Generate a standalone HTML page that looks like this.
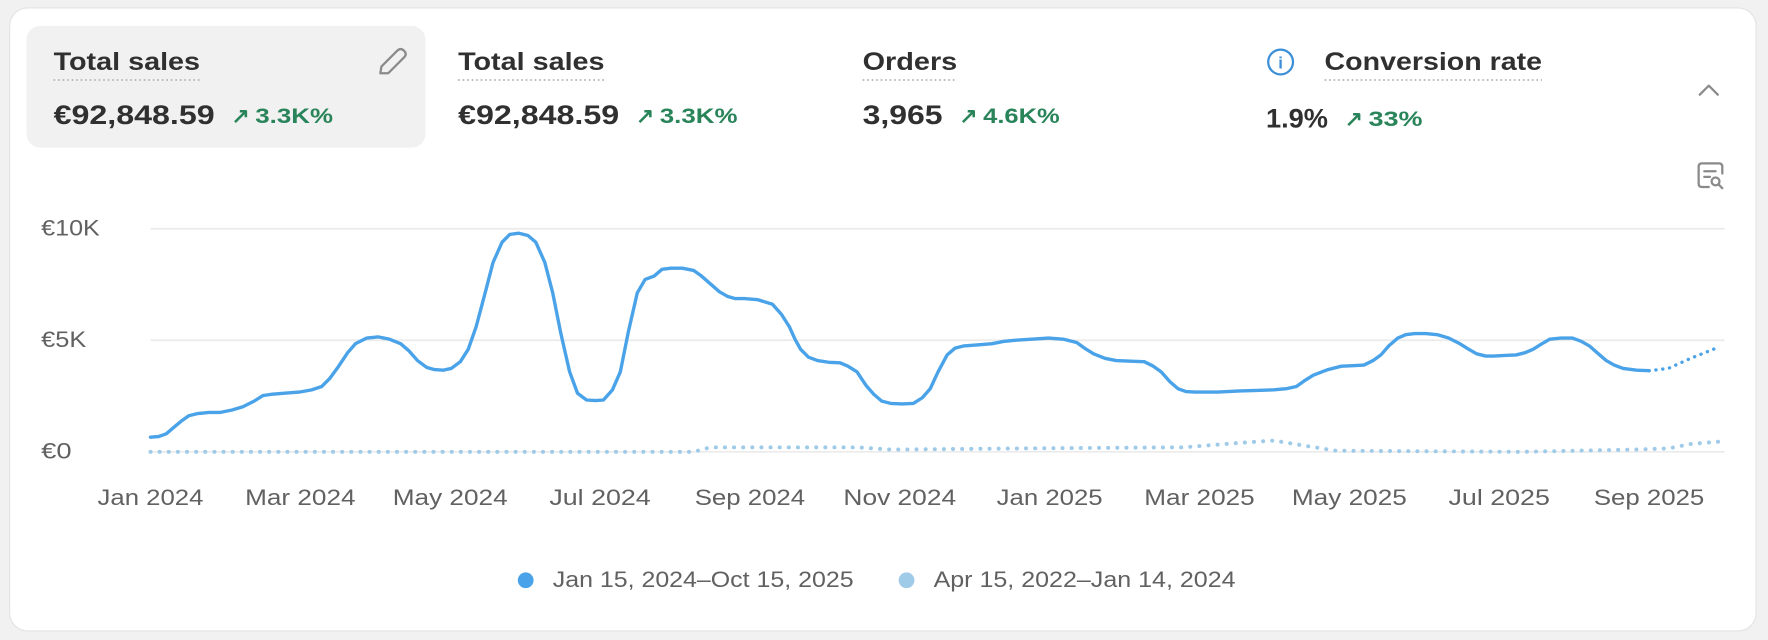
<!DOCTYPE html>
<html><head><meta charset="utf-8"><style>
html,body{margin:0;padding:0;background:#f1f1f1;}
svg{display:block;font-family:"Liberation Sans",sans-serif;}
</style></head><body>
<svg width="1768" height="640" viewBox="0 0 1568 568" xmlns="http://www.w3.org/2000/svg">
<rect x="0" y="0" width="1568" height="568" fill="#f1f1f1"/>
<rect x="8" y="7" width="1550" height="553" rx="16" fill="#fff" stroke="#e3e3e3" stroke-width="1"/>
<rect x="23" y="23" width="354" height="108" rx="12" fill="#f1f1f1"/>
<g fill="#303030" font-weight="bold" font-size="22">
<text x="47" y="62" textLength="130" lengthAdjust="spacingAndGlyphs">Total sales</text>
<text x="406" y="62" textLength="130" lengthAdjust="spacingAndGlyphs">Total sales</text>
<text x="765" y="62" textLength="84" lengthAdjust="spacingAndGlyphs">Orders</text>
<text x="1175" y="62" textLength="193" lengthAdjust="spacingAndGlyphs">Conversion rate</text>
</g>
<g stroke="#b5b5b5" stroke-width="1.5" stroke-dasharray="1.5 2.5">
<line x1="47" y1="71" x2="177" y2="71"/>
<line x1="406" y1="71" x2="536" y2="71"/>
<line x1="765" y1="71" x2="849" y2="71"/>
<line x1="1175" y1="71" x2="1368" y2="71"/>
</g>
<g fill="#303030" font-size="24" font-weight="600">
<text x="47" y="110" textLength="143" lengthAdjust="spacingAndGlyphs">€92,848.59</text>
<text x="406" y="110" textLength="143" lengthAdjust="spacingAndGlyphs">€92,848.59</text>
<text x="765" y="110" textLength="71" lengthAdjust="spacingAndGlyphs">3,965</text>
<text x="1123" y="113" textLength="55" lengthAdjust="spacingAndGlyphs">1.9%</text>
</g>
<g fill="#29845a" font-size="19" font-weight="bold">
<text x="205" y="109">↗</text><text x="226" y="109" textLength="69" lengthAdjust="spacingAndGlyphs">3.3K%</text>
<text x="564" y="109">↗</text><text x="585" y="109" textLength="69" lengthAdjust="spacingAndGlyphs">3.3K%</text>
<text x="851" y="109">↗</text><text x="872" y="109" textLength="68" lengthAdjust="spacingAndGlyphs">4.6K%</text>
<text x="1193" y="112">↗</text><text x="1214" y="112" textLength="48" lengthAdjust="spacingAndGlyphs">33%</text>
</g>
<g stroke="#8a8a8a" stroke-width="2" fill="none" stroke-linecap="round" stroke-linejoin="round">
<path d="M337 65 L338 59 L352 45 Q355 42 358 45 Q361 48 358 51 L344 65 Z"/>
<path d="M1508 84 L1516 76 L1524 84"/>
<path d="M1516 166 L1510 166 Q1507 166 1507 163 L1507 148 Q1507 145 1510 145 L1525 145 Q1528 145 1528 148 L1528 154"/>
<line x1="1512" y1="152" x2="1522" y2="152"/><line x1="1512" y1="157" x2="1517" y2="157"/>
<circle cx="1522" cy="161" r="3.5"/><line x1="1525" y1="164" x2="1528" y2="167"/>
</g>
<circle cx="1136" cy="55" r="11" fill="none" stroke="#3b8fd8" stroke-width="2"/>
<text x="1136" y="61" fill="#3b8fd8" font-size="15" font-weight="bold" text-anchor="middle">i</text>
<g stroke="#ebebeb" stroke-width="1.5">
<line x1="133" y1="203" x2="1530" y2="203"/>
<line x1="133" y1="302" x2="1530" y2="302"/>
<line x1="133" y1="401" x2="1530" y2="401"/>
</g>
<g fill="#616161" font-size="20">
<text x="36" y="209" textLength="52" lengthAdjust="spacingAndGlyphs">€10K</text>
<text x="36" y="308" textLength="40" lengthAdjust="spacingAndGlyphs">€5K</text>
<text x="36" y="407" textLength="27" lengthAdjust="spacingAndGlyphs">€0</text>
</g>
<g fill="#616161" font-size="20" text-anchor="middle">
<text x="133" y="448" textLength="94" lengthAdjust="spacingAndGlyphs">Jan 2024</text><text x="266" y="448" textLength="98" lengthAdjust="spacingAndGlyphs">Mar 2024</text><text x="399" y="448" textLength="102" lengthAdjust="spacingAndGlyphs">May 2024</text><text x="532" y="448" textLength="90" lengthAdjust="spacingAndGlyphs">Jul 2024</text><text x="665" y="448" textLength="98" lengthAdjust="spacingAndGlyphs">Sep 2024</text><text x="798" y="448" textLength="100" lengthAdjust="spacingAndGlyphs">Nov 2024</text><text x="931" y="448" textLength="94" lengthAdjust="spacingAndGlyphs">Jan 2025</text><text x="1064" y="448" textLength="98" lengthAdjust="spacingAndGlyphs">Mar 2025</text><text x="1197" y="448" textLength="102" lengthAdjust="spacingAndGlyphs">May 2025</text><text x="1330" y="448" textLength="90" lengthAdjust="spacingAndGlyphs">Jul 2025</text><text x="1463" y="448" textLength="98" lengthAdjust="spacingAndGlyphs">Sep 2025</text>
</g>
<polyline fill="none" stroke="#9fcbe9" stroke-width="3.5" stroke-linecap="round" stroke-dasharray="0.1 8" points="133,401 615,401 630,397 760,397 790,399 900,398 1050,397 1100,393 1130,391 1160,396 1185,400 1350,401 1450,399 1480,398 1500,394 1525,392"/>
<polyline fill="none" stroke="#4aa3e8" stroke-width="3" stroke-linejoin="round" stroke-linecap="round" points="133,388 140,387.5 147,385 154,379 160,374 167,369 175,367 185,366 195,366 205,364 215,361 225,356 233,351 240,350 252,349 265,348 276,346 285,343 292,336 300,325 308,313 315,305 325,300 335,299 345,301 355,305 362,311 370,320 378,326 385,328 393,328.5 400,327 408,321 415,310 422,290 430,260 437,233 445,215 452,208 460,207 468,209 475,215 483,233 490,260 497,295 505,330 512,349 520,355 528,355.5 535,355 543,346 550,330 557,295 565,260 572,248 580,245 587,239 595,238 605,238 615,240 622,245 630,252 638,259 645,263 652,265 660,265 672,266 685,270 693,279 700,290 705,301 710,310 717,317 725,320 735,321.5 745,322 752,325 760,330 768,342 775,350 782,356 790,358 800,358.5 810,358 818,353 825,345 832,330 840,315 847,309 855,307 868,306 880,305 890,303 900,302 915,301 930,300 943,301 955,304 962,309 970,314 980,318 990,320 1003,320.5 1015,321 1023,325 1030,330 1038,339 1045,345 1052,347.5 1060,348 1080,348 1100,347 1115,346.5 1130,346 1141,345 1150,343 1157,338 1165,333 1178,328 1190,325 1200,324.5 1210,324 1218,320 1225,315 1232,307 1240,300 1247,297 1255,296 1265,296 1275,297 1285,300 1295,305 1303,310 1310,314 1318,316 1325,316 1335,315.5 1345,315 1353,313 1360,310 1368,305 1375,301 1385,300 1395,300 1403,303 1410,307 1418,314 1425,320 1432,324 1440,327 1452,328.5 1463,329"/>
<polyline fill="none" stroke="#4aa3e8" stroke-width="3" stroke-linecap="round" stroke-dasharray="0.1 6" points="1463,329 1480,327 1500,318 1525,308"/>
<circle cx="466" cy="515" r="7" fill="#4aa3e8"/>
<text x="490" y="521" fill="#616161" font-size="20" textLength="267" lengthAdjust="spacingAndGlyphs">Jan 15, 2024–Oct 15, 2025</text>
<circle cx="804" cy="515" r="7" fill="#9fcbe9"/>
<text x="828" y="521" fill="#616161" font-size="20" textLength="268" lengthAdjust="spacingAndGlyphs">Apr 15, 2022–Jan 14, 2024</text>
</svg>
</body></html>
